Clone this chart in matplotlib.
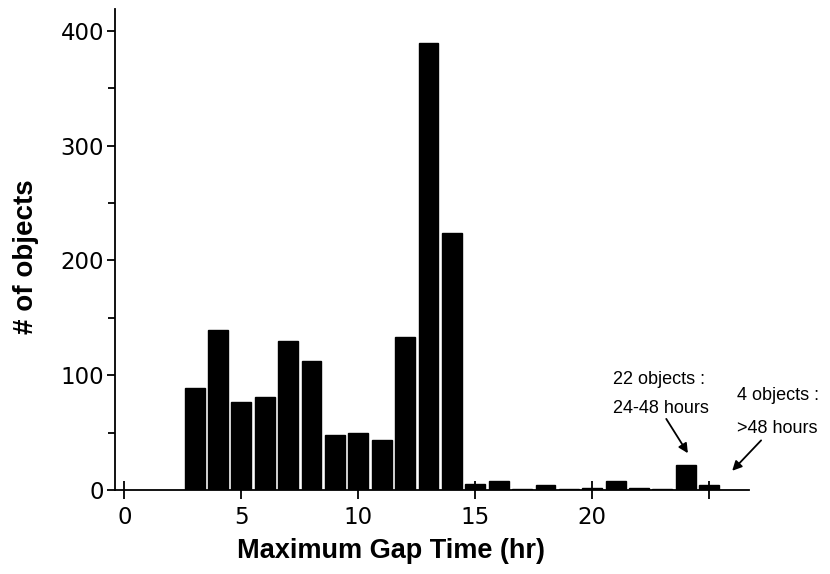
import numpy as np
import matplotlib.pyplot as plt
from matplotlib.ticker import MultipleLocator

# histogram of maximum gap time
gap_hr = [3, 4, 5, 6, 7, 8, 9, 10, 11, 12, 13, 14,
          15, 16, 17, 18, 19, 20, 21, 22, 23, 24, 25]
n_obj = [89, 139, 77, 81, 130, 112, 48, 50, 44, 133, 389, 224,
         5, 8, 1, 4, 1, 2, 8, 2, 1, 22, 4]

xtick_pos = [0, 5, 10, 15, 20, 25]
xtick_lab = ['0', '5', '10', '15', '20', '']
ytick_pos = [0, 100, 200, 300, 400]

plt.rcParams['font.family'] = ['Liberation Sans', 'DejaVu Sans']

fig = plt.figure(figsize=(8.3, 5.74), dpi=100)
ax = fig.add_axes([0.1386, 0.1463, 0.7638, 0.838])

ax.bar(gap_hr, n_obj, width=0.85, color='black', edgecolor='black')

ax.set_xlim(-0.4, 26.7)
ax.set_ylim(0, 419)

ax.spines['top'].set_visible(False)
ax.spines['right'].set_visible(False)
ax.spines['left'].set_linewidth(1.3)
ax.spines['bottom'].set_linewidth(1.3)

ax.set_xticks(xtick_pos)
ax.set_xticklabels(xtick_lab)
ax.set_yticks(ytick_pos)
ax.yaxis.set_minor_locator(MultipleLocator(50))
ax.tick_params(axis='x', direction='inout', length=13, width=1.3, pad=5)
ax.tick_params(axis='y', which='major', direction='out', length=6, width=1.3, pad=2)
ax.tick_params(axis='y', which='minor', direction='out', length=5, width=1.3)
for lab in ax.get_xticklabels() + ax.get_yticklabels():
    lab.set_family(['DejaVu Sans'])
    lab.set_fontweight('normal')
    lab.set_fontsize(16.5)

ax.set_xlabel('Maximum Gap Time (hr)', fontsize=19.5, fontweight='bold')
ax.xaxis.set_label_coords(0.435, -0.10)
ax.set_ylabel('# of objects', fontsize=20, fontweight='bold')
ax.yaxis.set_label_coords(-0.12, 0.485)

ax.annotate('', xy=(24.15, 30), xytext=(23.1, 64),
            arrowprops=dict(arrowstyle='-|>', color='black', lw=1.3, mutation_scale=14),
            annotation_clip=False)
ax.annotate('', xy=(25.9, 15), xytext=(27.3, 45),
            arrowprops=dict(arrowstyle='-|>', color='black', lw=1.3, mutation_scale=14),
            annotation_clip=False)
ax.text(20.9, 96, '22 objects :', fontsize=13, va='center', ha='left')
ax.text(20.9, 71, '24-48 hours', fontsize=13, va='center', ha='left')
ax.text(26.2, 82, '4 objects :', fontsize=13, va='center', ha='left', clip_on=False)
ax.text(26.2, 54, '>48 hours', fontsize=13, va='center', ha='left', clip_on=False)

fig.savefig('out.png', dpi=100)
